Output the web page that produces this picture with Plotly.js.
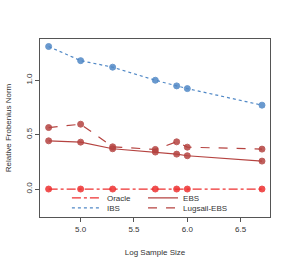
<!DOCTYPE html>
<html><head><meta charset="utf-8">
<script src="https://cdn.plot.ly/plotly-3.0.1.min.js"></script>
<style>html,body{margin:0;padding:0;background:#fff}#c{width:291px;height:267px}</style>
</head><body><div id="c"></div>
<script>
const logN = [4.70, 5.00, 5.30, 5.70, 5.90, 6.00, 6.70];
const oracle = [0, 0, 0, 0, 0, 0, 0];
const ibs = [1.31, 1.18, 1.12, 1.00, 0.948, 0.923, 0.771];
const ebs = [0.443, 0.431, 0.370, 0.340, 0.321, 0.306, 0.257];
const lugsail = [0.565, 0.596, 0.388, 0.364, 0.434, 0.385, 0.367];
const names = ["Oracle", "IBS", "EBS", "Lugsail-EBS"];
const xTicks = [5.0, 5.5, 6.0, 6.5];
const yTicks = [0.0, 0.5, 1.0];

const font = {family: "Liberation Sans, Arial, sans-serif", size: 8, color: "#333"};
const series = [
  {y: oracle, name: names[0], color: "#ee3030", dash: "dashdot", leg: "legend"},
  {y: ibs, name: names[1], color: "#5088c6", dash: "dot", leg: "legend2"},
  {y: ebs, name: names[2], color: "#b54340", dash: "solid", leg: "legend3"},
  {y: lugsail, name: names[3], color: "#b54340", dash: "dash", leg: "legend4"}
];
const data = [];
series.forEach(s => {
  data.push({x: logN, y: s.y, name: s.name, type: "scatter", mode: "lines+markers", showlegend: false,
    line: {color: s.color, dash: s.dash, width: 1.2},
    marker: {symbol: "circle-x", size: 6, color: s.color, opacity: 0.85, line: {color: s.color, width: 1}}});
});
series.forEach(s => {
  data.push({x: [null], y: [null], name: s.name, type: "scatter", mode: "lines", showlegend: true,
    line: {color: s.color, dash: s.dash, width: 1.2}, legend: s.leg});
});
const legBase = {bgcolor: "rgba(0,0,0,0)", borderwidth: 0, font: font, tracegroupgap: 0,
  yanchor: "middle", xanchor: "left", itemwidth: 30};
const layout = {
  width: 291, height: 267,
  margin: {l: 40, r: 21, t: 39, b: 50},
  paper_bgcolor: "#fff", plot_bgcolor: "#fff",
  font: font,
  showlegend: true,
  legend: Object.assign({}, legBase, {x: 0.117, y: 0.107}),
  legend2: Object.assign({}, legBase, {x: 0.117, y: 0.051}),
  legend3: Object.assign({}, legBase, {x: 0.448, y: 0.107}),
  legend4: Object.assign({}, legBase, {x: 0.448, y: 0.051}),
  xaxis: {range: [4.619, 6.775], tickvals: xTicks, ticktext: xTicks.map(v => v.toFixed(1)),
    ticks: "outside", ticklen: 4, tickcolor: "#555", showgrid: false, zeroline: false,
    showline: true, linecolor: "#555", linewidth: 1, mirror: true,
    title: {text: "Log Sample Size", font: font, standoff: 16}},
  yaxis: {range: [-0.257, 1.379], tickvals: yTicks, ticktext: yTicks.map(v => v.toFixed(1)),
    tickangle: -90, ticks: "outside", ticklen: 4, tickcolor: "#555", showgrid: false, zeroline: false,
    showline: true, linecolor: "#555", linewidth: 1, mirror: true,
    title: {text: "Relative Frobenius Norm", font: font, standoff: 11}}
};
Plotly.newPlot("c", data, layout, {displayModeBar: false, staticPlot: true});
</script></body></html>
